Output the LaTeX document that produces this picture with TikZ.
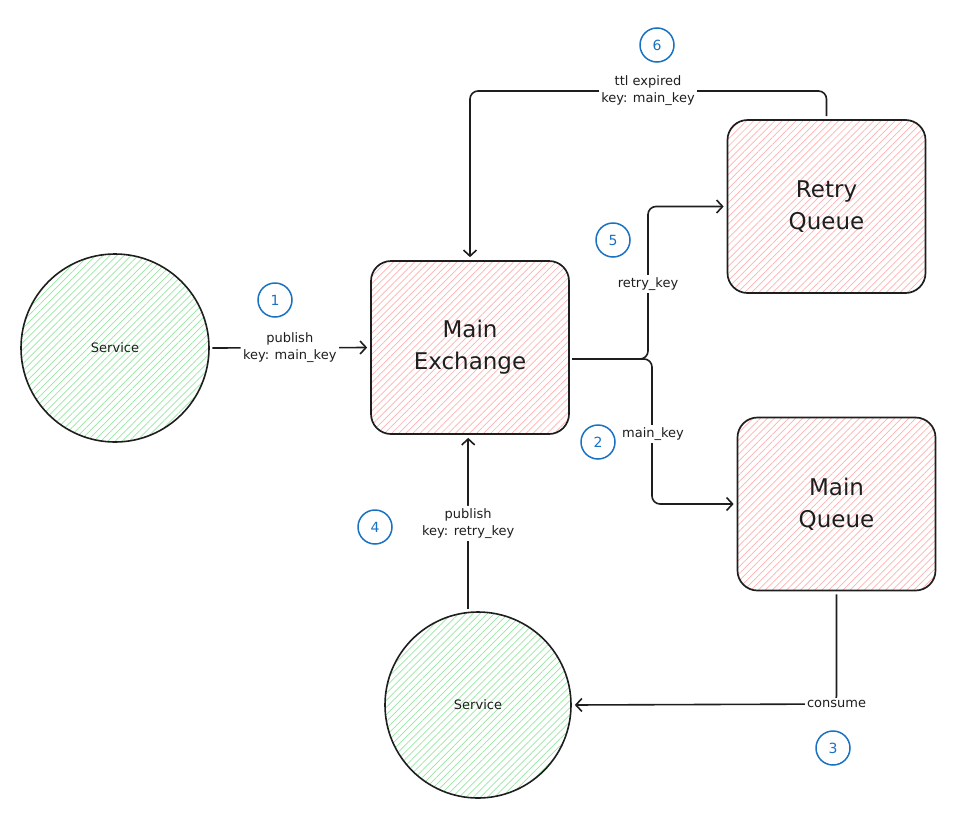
\documentclass[tikz,border=0pt]{standalone}
\usepackage{fontspec}
\setmainfont{DejaVu Sans}
\usetikzlibrary{arrows.meta,patterns.meta}
\definecolor{ink}{HTML}{1E1E1E}
\definecolor{pinkfill}{HTML}{FFB0B0}
\definecolor{greenfill}{HTML}{96E6A1}
\definecolor{numblue}{HTML}{1971C2}
\begin{document}
\begin{tikzpicture}[x=1pt,y=-1pt,
  box/.style={draw=ink, line width=1.7pt, rounded corners=20pt, minimum width=198pt, minimum height=173pt,
    pattern={Lines[angle=45,distance=5pt,line width=0.7pt]}, pattern color=pinkfill,
    font=\fontsize{23}{32}\selectfont, align=center, text=ink},
  svc/.style={circle, draw=ink, line width=1.6pt, inner sep=0pt,
    pattern={Lines[angle=45,distance=5pt,line width=0.7pt]}, pattern color=greenfill,
    font=\fontsize{13}{15}\selectfont, text=ink},
  num/.style={circle, draw=numblue, line width=1.5pt, minimum size=34pt, inner sep=0pt,
    text=numblue, font=\fontsize{14}{16}\selectfont},
  lbl/.style={fill=white, font=\fontsize{13}{17}\selectfont, align=center, text=ink, inner sep=2.5pt},
  conn/.style={draw=ink, line width=1.6pt, -{Straight Barb[length=6pt,width=13pt,line width=1.6pt]},
    rounded corners=8pt, shorten >=3pt, shorten <=3pt}]
\useasboundingbox (0,0) rectangle (974,825);

% nodes
\node[svc, minimum size=188pt] (svc1) at (115,348) {Service};
\node[box] (mx) at (470,347.5) {Main\\Exchange};
\node[box] (rq) at (826.5,206.5) {Retry\\Queue};
\node[box] (mq) at (836.5,504) {Main\\Queue};
\node[svc, minimum size=186pt] (svc2) at (478,705) {Service};

% number badges
\node[num] (n1) at (275,300) {1};
\node[num] (n2) at (598,442) {2};
\node[num] (n3) at (833,748) {3};
\node[num] (n4) at (375,527) {4};
\node[num] (n5) at (613,240) {5};
\node[num] (n6) at (657,45) {6};

% connectors
\draw[conn] (svc1.east) -- node[lbl]{publish\\key: main\_key} (mx.west);

\coordinate (split) at (572,359);
\draw[conn, shorten <=0pt] (split) -- (648,359) |- (rq.west);
\node[lbl] (lretry) at (648,284) {retry\_key};
\draw[conn, shorten <=0pt] (split) -- (652,359) |- (mq.west);
\node[lbl] (lmain) at (653,434) {main\_key};

\draw[conn] (rq.north) -- (826.5,91) -| (mx.north);
\node[lbl] (lttl) at (648,91) {ttl expired\\key: main\_key};

\draw[conn] (svc2.96) -- node[lbl]{publish\\key: retry\_key} (svc2.96 |- mx.south);

\draw[conn] (mq.south) -- (836.5,704) -- (svc2.east);
\node[lbl] (lcons) at (836.5,704) {consume};
\end{tikzpicture}
\end{document}
